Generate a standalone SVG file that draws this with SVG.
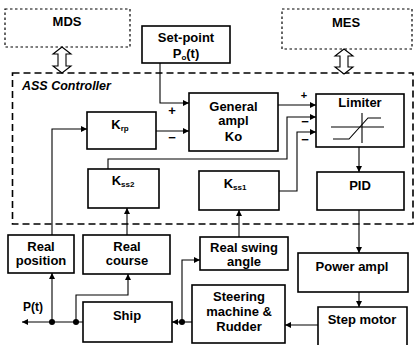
<svg xmlns="http://www.w3.org/2000/svg" width="418" height="345" viewBox="0 0 418 345">
<defs>
<marker id="ah" viewBox="0 0 10 10" refX="10" refY="5" markerWidth="6" markerHeight="6" markerUnits="userSpaceOnUse" orient="auto"><path d="M0,0 L10,5 L0,10 z" fill="#000"/></marker>
<style>
.box{fill:#fff;stroke:#000;stroke-width:1.6}
.dot{fill:none;stroke:#000;stroke-width:1.2;stroke-dasharray:2.5,2.5}
.ln{fill:none;stroke:#000;stroke-width:1.1}
.arr{fill:none;stroke:#000;stroke-width:1.1;marker-end:url(#ah)}
.t{font-family:"Liberation Sans",Arial,sans-serif;font-weight:bold;font-size:13px;text-anchor:middle;fill:#000}
.sub{font-size:8px}
.jd{fill:#000}
.dbl{fill:#fff;stroke:#000;stroke-width:1.1}
</style>
</defs>
<rect width="418" height="345" fill="#fff"/>

<!-- controller dashed frame -->
<rect id="ass" x="12.5" y="73" width="400.5" height="151" fill="none" stroke="#000" stroke-width="1.6" stroke-dasharray="7,4"/>
<text x="22" y="90" class="t" style="text-anchor:start;font-style:italic;font-size:12.5px">ASS Controller</text>

<g id="mds"><rect x="5" y="9" width="125" height="38" class="dot"/><text x="67" y="26" class="t">MDS</text></g>
<g id="mes"><rect x="282" y="9" width="130" height="40" class="dot"/><text x="346" y="27" class="t">MES</text></g>

<g id="mds-link"><path class="dbl" d="M62,47 L71,54 L66,54 L66,66 L71,66 L62,73 L53,66 L58,66 L58,54 L53,54 Z"/></g>
<g id="mes-link"><path class="dbl" d="M344,49 L353,56 L348,56 L348,67 L353,67 L344,74 L335,67 L340,67 L340,56 L335,56 Z"/></g>

<g id="setpoint"><rect x="142" y="26" width="88" height="37" class="box"/><text x="186" y="42" class="t">Set-point</text><text x="186" y="58" class="t">P<tspan class="sub" dy="2">o</tspan><tspan dy="-2">(t)</tspan></text></g>

<g id="krp"><rect x="87" y="112" width="69" height="37" class="box"/><text x="120" y="129" class="t">K<tspan class="sub" dy="2">rp</tspan></text></g>
<g id="general"><rect x="189" y="93" width="89" height="58" class="box"/><text x="233.5" y="111" class="t">General</text><text x="233.5" y="125" class="t">ampl</text><text x="233.5" y="141" class="t">Ko</text></g>
<g id="limiter"><rect x="316" y="94" width="88" height="53" class="box"/><text x="360" y="107" class="t">Limiter</text>
<path class="ln" d="M331,127 H384 M362,113 V143"/><path class="ln" d="M333,139 H349 L368,118 H381"/></g>
<g id="pid"><rect x="317" y="172" width="87" height="38" class="box"/><text x="360" y="190" class="t">PID</text></g>
<g id="kss2"><rect x="88" y="169" width="71" height="39" class="box"/><text x="123" y="185" class="t">K<tspan class="sub" dy="2">ss2</tspan></text></g>
<g id="kss1"><rect x="199" y="171" width="80" height="39" class="box"/><text x="235" y="188" class="t">K<tspan class="sub" dy="2">ss1</tspan></text></g>

<g id="realpos"><rect x="8" y="235" width="66" height="38" class="box"/><text x="41" y="251" class="t">Real</text><text x="41" y="265" class="t">position</text></g>
<g id="realcourse"><rect x="83" y="235" width="87" height="39" class="box"/><text x="127" y="251" class="t">Real</text><text x="127" y="265" class="t">course</text></g>
<g id="realswing"><rect x="200" y="237" width="88" height="33" class="box"/><text x="244" y="252" class="t">Real swing</text><text x="244" y="266" class="t">angle</text></g>
<g id="power"><rect x="298" y="253" width="110" height="39" class="box"/><text x="352" y="271" class="t">Power ampl</text></g>
<g id="ship"><rect x="83" y="302" width="89" height="40" class="box"/><text x="127" y="320" class="t">Ship</text></g>
<g id="steering"><rect x="192" y="285" width="93" height="58" class="box"/><text x="239" y="301" class="t">Steering</text><text x="239" y="316" class="t">machine &amp;</text><text x="239" y="331" class="t">Rudder</text></g>
<g id="stepmotor"><path class="box" d="M318,350 V307 H407 V350"/><text x="362" y="324" class="t">Step motor</text></g>

<g id="connectors">
<path class="arr" d="M160,63 V103 H189"/>
<path class="arr" d="M156,131 H189"/>
<path class="arr" d="M278,105 H316"/>
<path class="arr" d="M108,169 V159 H287 V117 H316"/>
<path class="arr" d="M279,191 H297 V132 H316"/>
<path class="arr" d="M359,147 V172"/>
<path class="arr" d="M359,210 V253"/>
<path class="arr" d="M359,292 V307"/>
<path class="arr" d="M318,325 H285"/>
<path class="arr" d="M192,322 H172"/>
<path class="arr" d="M182,322 V260 H200"/>
<path class="arr" d="M83,322 H22"/>
<path class="arr" d="M52,322 V273"/>
<path class="arr" d="M52,235 V129 H87"/>
<path class="arr" d="M76,322 V295 H128 V274"/>
<path class="arr" d="M127,235 V208"/>
<path class="arr" d="M239,237 V210"/>
<circle class="jd" cx="52" cy="322" r="3"/>
<circle class="jd" cx="76" cy="322" r="3"/>
<circle class="jd" cx="182" cy="322" r="3"/>
</g>

<text x="172" y="115" class="t">+</text>
<text x="172" y="142" class="t">−</text>
<text x="304" y="99" class="t" style="font-size:11px">+</text>
<text x="305" y="126" class="t">−</text>
<text x="305" y="144" class="t">−</text>
<text x="33" y="311" class="t" style="font-size:12px">P(t)</text>
</svg>
